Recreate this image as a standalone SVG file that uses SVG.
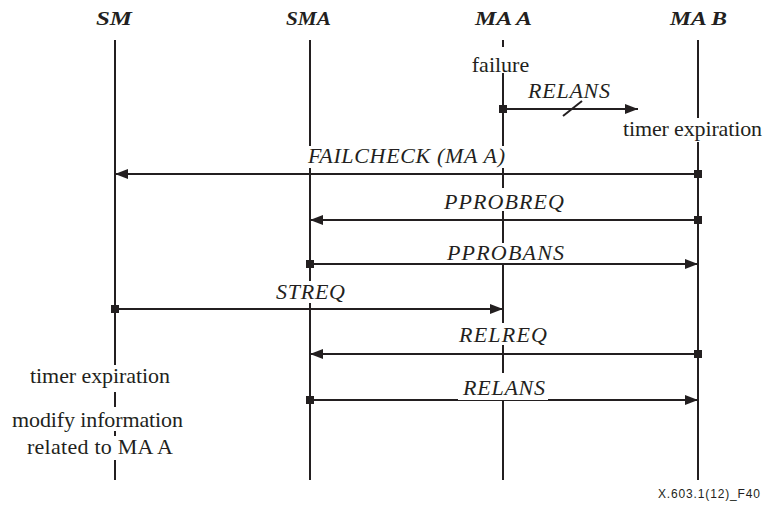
<svg xmlns="http://www.w3.org/2000/svg" width="771" height="506" viewBox="0 0 771 506">
<style>
text{font-family:'Liberation Serif','Times New Roman',serif;fill:#231f20}
.hdr{font-size:19px;font-weight:bold;font-style:italic;text-anchor:middle}
.msg{font-size:22px;font-style:italic;text-anchor:middle}
.note{font-size:22px;text-anchor:middle}
.life{stroke:#231f20;stroke-width:2;fill:none}
.conn{stroke:#231f20;stroke-width:2;fill:none;marker-start:url(#sq);marker-end:url(#arr)}
.mask{fill:#ffffff}
text.foot{font-family:'Liberation Sans',Arial,sans-serif;font-size:12px}
</style>
<defs>
<marker id="arr" markerUnits="userSpaceOnUse" markerWidth="14" markerHeight="12" refX="13" refY="5" orient="auto">
<path d="M0,0 L13,5 L0,10 z" fill="#231f20"/>
</marker>
<marker id="sq" markerUnits="userSpaceOnUse" markerWidth="8" markerHeight="8" refX="4" refY="4" orient="auto">
<rect x="0" y="0" width="8" height="8" fill="#231f20"/>
</marker>
</defs>
<rect width="771" height="506" fill="#ffffff"/>

<g id="SM">
<text class="hdr" x="114" y="25" textLength="36" lengthAdjust="spacingAndGlyphs">SM</text>
<line class="life" x1="115" y1="40" x2="115" y2="480"/>
</g>
<g id="SMA">
<text class="hdr" x="308.5" y="25" textLength="45" lengthAdjust="spacingAndGlyphs">SMA</text>
<line class="life" x1="310" y1="40" x2="310" y2="480"/>
</g>
<g id="MA_A">
<text class="hdr" x="503.5" y="25" textLength="57" lengthAdjust="spacingAndGlyphs">MA A</text>
<line class="life" x1="503" y1="40" x2="503" y2="480"/>
</g>
<g id="MA_B">
<text class="hdr" x="698.5" y="25" textLength="57" lengthAdjust="spacingAndGlyphs">MA B</text>
<line class="life" x1="698" y1="40" x2="698" y2="480"/>
</g>

<g id="connectors">
<line class="conn" x1="503" y1="109" x2="638" y2="109"/>
<line x1="563" y1="116" x2="582" y2="101" stroke="#231f20" stroke-width="2"/>
<line class="conn" x1="698" y1="174" x2="115" y2="174"/>
<line class="conn" x1="698" y1="220" x2="310" y2="220"/>
<line class="conn" x1="310" y1="264" x2="698" y2="264"/>
<line class="conn" x1="115" y1="309" x2="503" y2="309"/>
<line class="conn" x1="698" y1="354" x2="310" y2="354"/>
<line class="conn" x1="310" y1="400" x2="698" y2="400"/>
</g>

<g id="labels">
<rect class="mask" x="468" y="47" width="65" height="26"/>
<text class="note" x="500.5" y="72">failure</text>
<text class="msg" x="569" y="98" textLength="82">RELANS</text>
<rect class="mask" x="620" y="118" width="146" height="24"/>
<text class="note" x="692.5" y="136" textLength="139">timer expiration</text>
<rect class="mask" x="305" y="146" width="203" height="22"/>
<text class="msg" x="406.5" y="163" textLength="197">FAILCHECK (MA A)</text>
<rect class="mask" x="442" y="188" width="124" height="23"/>
<text class="msg" x="504" y="209" textLength="120">PPROBREQ</text>
<rect class="mask" x="445" y="243" width="121" height="20"/>
<text class="msg" x="505.5" y="260" textLength="117">PPROBANS</text>
<rect class="mask" x="274" y="281" width="73" height="22"/>
<text class="msg" x="310.5" y="299" textLength="69">STREQ</text>
<rect class="mask" x="457" y="323" width="92" height="22"/>
<text class="msg" x="503" y="342" textLength="88">RELREQ</text>
<rect class="mask" x="458" y="373" width="90" height="27"/>
<text class="msg" x="504" y="395" textLength="82">RELANS</text>
<rect class="mask" x="28" y="365" width="145" height="27"/>
<text class="note" x="100" y="383" textLength="140">timer expiration</text>
<rect class="mask" x="10" y="407" width="176" height="24"/>
<text class="note" x="97.5" y="427" textLength="171">modify information</text>
<rect class="mask" x="25" y="436" width="150" height="24"/>
<text class="note" x="100" y="454" textLength="146">related to MA A</text>
<text class="foot" x="658" y="498" textLength="102">X.603.1(12)_F40</text>
</g>
</svg>
